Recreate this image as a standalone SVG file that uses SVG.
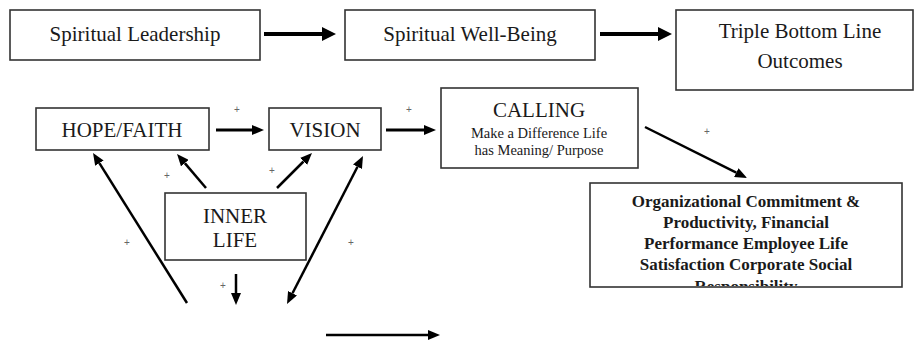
<svg xmlns="http://www.w3.org/2000/svg" width="915" height="347" viewBox="0 0 915 347">
<style>
.box{fill:#fff;stroke:#333;stroke-width:1.6}
.t{font-family:'Liberation Serif','Times New Roman',Tinos,'DejaVu Serif',serif;fill:#1a1a1a;text-anchor:middle}
.b{font-weight:bold}
.c{stroke:#000;fill:none}
.plus{font-family:'Liberation Sans',Arial,sans-serif;font-size:10px;fill:#666;text-anchor:middle}
</style>
<defs>
<marker id="ah" markerUnits="userSpaceOnUse" viewBox="0 -5 12 10" markerWidth="12" markerHeight="10" refX="0" refY="0" orient="auto-start-reverse"><path d="M0,-5 L12,0 L0,5 z" fill="#000"/></marker>
<marker id="ahb" markerUnits="userSpaceOnUse" viewBox="0 -7 14 14" markerWidth="14" markerHeight="14" refX="0" refY="0" orient="auto"><path d="M0,-7 L14,0 L0,7 z" fill="#000"/></marker>
<clipPath id="orgclip"><rect x="591" y="184" width="310" height="102"/></clipPath>
</defs>
<rect width="915" height="347" fill="#fff"/>
<g id="n-leadership"><rect class="box" x="10" y="10" width="250" height="50"/><text class="t" x="135" y="41" font-size="21">Spiritual Leadership</text></g>
<g id="n-wellbeing"><rect class="box" x="345" y="10" width="250" height="50"/><text class="t" x="470" y="41" font-size="21">Spiritual Well-Being</text></g>
<g id="n-triple"><rect class="box" x="676" y="10" width="237" height="80"/><text class="t" x="800" y="38" font-size="21">Triple Bottom Line</text><text class="t" x="800" y="68" font-size="21">Outcomes</text></g>
<g id="n-hope"><rect class="box" x="36" y="108" width="173" height="42"/><text class="t" x="122" y="137" font-size="21">HOPE/FAITH</text></g>
<g id="n-vision"><rect class="box" x="269" y="108" width="112" height="42"/><text class="t" x="325" y="137" font-size="21">VISION</text></g>
<g id="n-calling"><rect class="box" x="441" y="88" width="197" height="80"/><text class="t" x="539" y="117" font-size="21">CALLING</text><text class="t" x="539" y="138" font-size="14.5">Make a Difference Life</text><text class="t" x="539" y="155" font-size="14.5">has Meaning/ Purpose</text></g>
<g id="n-inner"><rect class="box" x="165" y="193" width="141" height="67"/><text class="t" x="235" y="223" font-size="21">INNER</text><text class="t" x="235" y="247" font-size="21">LIFE</text></g>
<g id="n-org"><rect class="box" x="590" y="183" width="312" height="104"/><g clip-path="url(#orgclip)"><text class="t b" x="746" y="207" font-size="17">Organizational Commitment &amp;</text><text class="t b" x="746" y="228" font-size="17">Productivity, Financial</text><text class="t b" x="746" y="249" font-size="17">Performance Employee Life</text><text class="t b" x="746" y="270" font-size="17">Satisfaction Corporate Social</text><text class="t b" x="746" y="292" font-size="17">Responsibility</text></g></g>
<g id="connectors">
<line class="c" x1="264" y1="34" x2="322" y2="34" stroke-width="4" marker-end="url(#ahb)"/>
<line class="c" x1="600" y1="34" x2="658" y2="34" stroke-width="4" marker-end="url(#ahb)"/>
<line class="c" x1="216" y1="130" x2="252" y2="130" stroke-width="3" marker-end="url(#ah)"/>
<line class="c" x1="386" y1="130" x2="424" y2="130" stroke-width="3" marker-end="url(#ah)"/>
<line class="c" x1="645" y1="127" x2="736.3" y2="172.6" stroke-width="2.5" marker-end="url(#ah)"/>
<line class="c" x1="206" y1="188" x2="184.8" y2="163.1" stroke-width="2.5" marker-end="url(#ah)"/>
<line class="c" x1="277" y1="188" x2="303.5" y2="161.5" stroke-width="2.5" marker-end="url(#ah)"/>
<line class="c" x1="187" y1="303" x2="99.4" y2="163.2" stroke-width="2.5" marker-end="url(#ah)"/>
<line class="c" x1="292.5" y1="293.3" x2="357.5" y2="166.7" stroke-width="2.5" marker-start="url(#ah)" marker-end="url(#ah)"/>
<line class="c" x1="236" y1="274" x2="236" y2="293" stroke-width="2.5" marker-end="url(#ah)"/>
<line class="c" x1="326" y1="335" x2="428" y2="335" stroke-width="2.5" marker-end="url(#ah)"/>
</g>
<g id="plus-labels">
<text class="plus" x="237" y="113">+</text>
<text class="plus" x="409" y="113">+</text>
<text class="plus" x="707" y="135">+</text>
<text class="plus" x="167" y="179">+</text>
<text class="plus" x="272" y="174">+</text>
<text class="plus" x="127" y="246">+</text>
<text class="plus" x="351" y="246">+</text>
<text class="plus" x="223" y="289">+</text>
</g>
</svg>
